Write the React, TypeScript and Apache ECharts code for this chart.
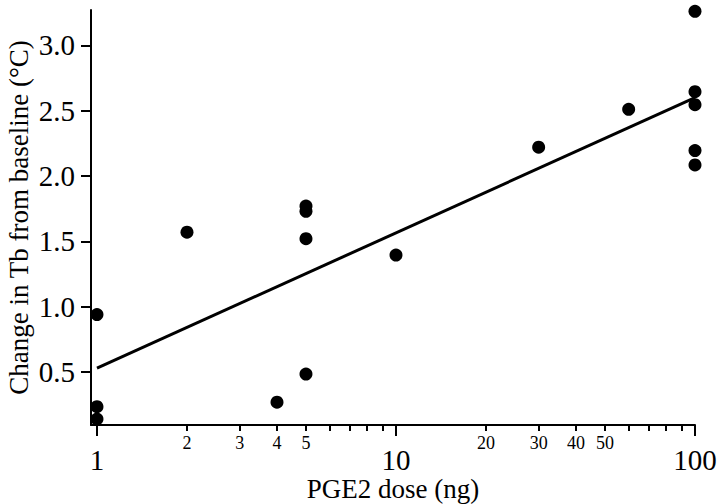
import React, { useEffect, useRef } from "react";
import * as echarts from "echarts";

const doses = [1, 1, 1, 2, 4, 5, 5, 5, 5, 10, 30, 60, 100, 100, 100, 100, 100];
const changes = [0.94, 0.235, 0.14, 1.57, 0.27, 1.77, 1.73, 1.52, 0.485, 1.395, 2.22, 2.51, 3.26, 2.645, 2.546, 2.195, 2.085];
const fitDoses = [1, 100];
const fitValues = [0.53, 2.6];
const majorXTicks = [1, 10, 100];
const minorXTicks = [2, 3, 4, 5, 6, 7, 8, 9, 20, 30, 40, 50, 60, 70, 80, 90];
const minorXLabels = [2, 3, 4, 5, 20, 30, 40, 50];
const yTicks = [0.5, 1.0, 1.5, 2.0, 2.5, 3.0];

const FONT = "'Liberation Serif', 'Times New Roman', serif";

export default function App() {
  const ref = useRef<HTMLDivElement>(null);
  useEffect(() => {
    if (!ref.current) return;
    const chart = echarts.init(ref.current, undefined, { renderer: "svg" });
    const xBase = {
      type: "log" as const,
      logBase: 10,
      min: 0.955,
      max: 100,
      position: "bottom" as const,
      splitLine: { show: false },
      minorTick: { show: false },
      minorSplitLine: { show: false },
    };
    chart.setOption({
      animation: false,
      backgroundColor: "#ffffff",
      grid: { left: 91, right: 25, top: 10, bottom: 79, containLabel: false, outerBoundsMode: "none" },
      xAxis: [
        {
          ...xBase,
          axisLine: { show: true, lineStyle: { color: "#000", width: 2 } },
          axisTick: { show: true, length: 6, customValues: minorXTicks, lineStyle: { color: "#000", width: 2 } },
          axisLabel: {
            customValues: minorXLabels,
            margin: 9,
            fontSize: 18,
            fontFamily: FONT,
            color: "#000",
            formatter: (v: number) => String(Math.round(v)),
          },
        },
        {
          ...xBase,
          axisLine: { show: false },
          axisTick: { show: true, length: 11, customValues: majorXTicks, lineStyle: { color: "#000", width: 2 } },
          axisLabel: {
            customValues: majorXTicks,
            margin: 20,
            fontSize: 29,
            lineHeight: 29,
            fontFamily: FONT,
            color: "#000",
            formatter: (v: number) => String(Math.round(v)),
          },
          name: "PGE2 dose (ng)",
          nameLocation: "middle",
          nameGap: 64,
          nameMoveOverlap: false,
          nameTextStyle: { fontSize: 27, lineHeight: 27, fontFamily: FONT, color: "#000", verticalAlign: "middle" },
        },
      ],
      yAxis: {
        type: "value",
        min: 0.095,
        max: 3.27,
        splitLine: { show: false },
        axisLine: { show: true, lineStyle: { color: "#000", width: 2 } },
        axisTick: { show: true, length: 10, customValues: yTicks, lineStyle: { color: "#000", width: 2 } },
        axisLabel: {
          customValues: yTicks,
          margin: 16,
          fontSize: 29,
          fontFamily: FONT,
          color: "#000",
          formatter: (v: number) => v.toFixed(1),
        },
        name: "Change in Tb from baseline (°C)",
        nameLocation: "middle",
        nameGap: 59,
        nameMoveOverlap: false,
        nameTextStyle: { fontSize: 27, fontFamily: FONT, color: "#000" },
      },
      series: [
        {
          type: "line",
          xAxisIndex: 0,
          data: fitDoses.map((d, i) => [d, fitValues[i]]),
          symbol: "none",
          lineStyle: { color: "#000", width: 3 },
          z: 2,
        },
        {
          type: "scatter",
          xAxisIndex: 0,
          data: doses.map((d, i) => [d, changes[i]]),
          symbol: "circle",
          symbolSize: 13,
          itemStyle: { color: "#000", opacity: 1 },
          z: 3,
        },
      ],
    });
    return () => chart.dispose();
  }, []);
  return <div ref={ref} style={{ width: 720, height: 504, position: "absolute", left: 0, top: 0 }} />;
}
